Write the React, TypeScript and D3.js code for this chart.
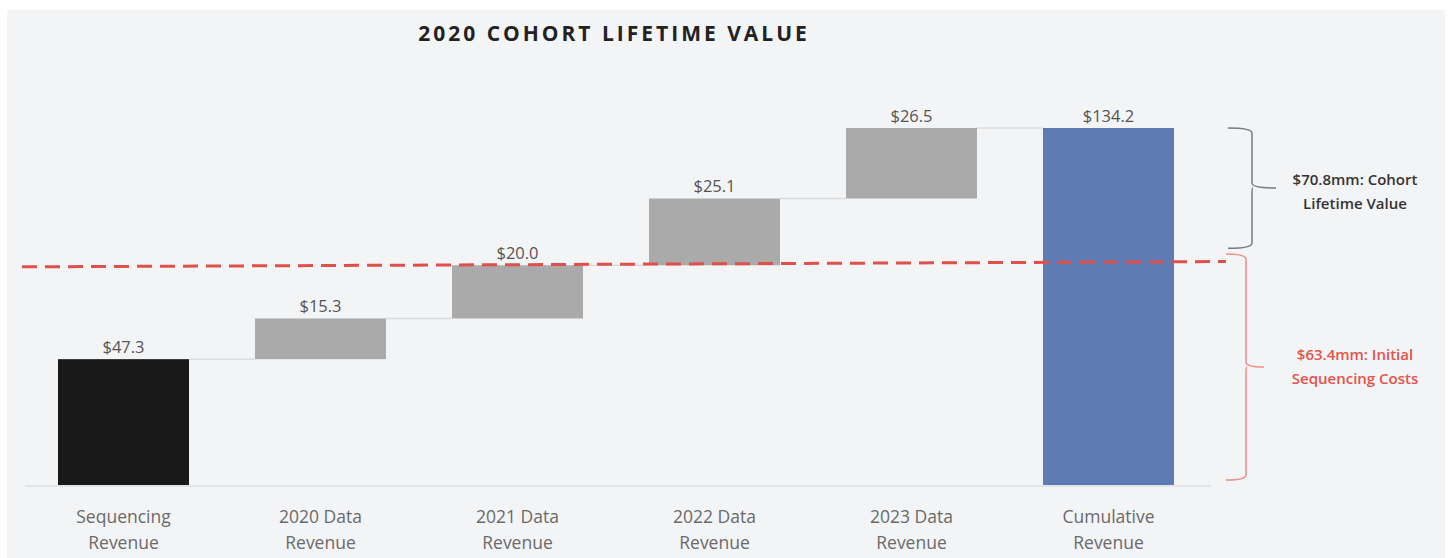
import React, { useEffect, useRef } from 'react';
import * as d3 from 'd3';

const categories = [
  ['Sequencing', 'Revenue'],
  ['2020 Data', 'Revenue'],
  ['2021 Data', 'Revenue'],
  ['2022 Data', 'Revenue'],
  ['2023 Data', 'Revenue'],
  ['Cumulative', 'Revenue'],
];
const increments = [47.3, 15.3, 20.0, 25.1, 26.5];
const total = 134.2;
const valueLabels = ['$47.3', '$15.3', '$20.0', '$25.1', '$26.5', '$134.2'];
const barColors = ['#191919', '#aaaaaa', '#aaaaaa', '#aaaaaa', '#aaaaaa', '#5f7bb4'];

// dashed cost line (left value, right value) as drawn in the source
const costLine = [82.0, 84.0];
// brace spans: [top, bottom] in data units
const ltvBrace = [134.2, 89.0];
const costBrace = [86.8, 1.9];
const ltvText = ['$70.8mm: Cohort', 'Lifetime Value'];
const costText = ['$63.4mm: Initial', 'Sequencing Costs'];

export default function App() {
  const ref = useRef<SVGSVGElement>(null);

  useEffect(() => {
    const W = 1453;
    const H = 558;
    const svg = d3.select(ref.current);
    svg.selectAll('*').remove();

    svg
      .append('rect')
      .attr('x', 7)
      .attr('y', 10)
      .attr('width', W - 15)
      .attr('height', H - 10)
      .attr('fill', '#f3f4f6');

    const x = d3
      .scaleBand()
      .domain(categories.map((c) => c.join(' ')))
      .range([25, 1207])
      .paddingInner(0.335)
      .paddingOuter(0.1675);

    const y = d3.scaleLinear().domain([0, total]).range([485, 128]);

    // waterfall rows
    let run = 0;
    const rows = categories.map((c, i) => {
      const key = c.join(' ');
      if (i < increments.length) {
        const start = run;
        run += increments[i];
        return { key, lo: start, hi: run, i };
      }
      return { key, lo: 0, hi: total, i };
    });

    // baseline
    svg
      .append('line')
      .attr('x1', 25)
      .attr('x2', 1211)
      .attr('y1', y(0) + 1)
      .attr('y2', y(0) + 1)
      .attr('stroke', '#e3e4e6')
      .attr('stroke-width', 2);

    // connectors
    svg
      .append('g')
      .selectAll('line')
      .data(rows.slice(0, -1))
      .join('line')
      .attr('x1', (d) => x(d.key)! + x.bandwidth())
      .attr('x2', (d) => x(rows[d.i + 1].key)!)
      .attr('y1', (d) => y(d.hi))
      .attr('y2', (d) => y(d.hi))
      .attr('stroke', '#dcdcdc')
      .attr('stroke-width', 1.5);

    svg
      .append('g')
      .selectAll('rect')
      .data(rows)
      .join('rect')
      .attr('x', (d) => x(d.key)!)
      .attr('y', (d) => y(d.hi))
      .attr('width', x.bandwidth())
      .attr('height', (d) => y(d.lo) - y(d.hi))
      .attr('fill', (d) => barColors[d.i]);

    svg
      .append('g')
      .selectAll('text')
      .data(rows)
      .join('text')
      .attr('x', (d) => x(d.key)! + x.bandwidth() / 2)
      .attr('y', (d) => y(d.hi) - 6)
      .attr('text-anchor', 'middle')
      .attr('font-family', 'Open Sans')
      .attr('font-size', 16.5)
      .attr('fill', '#555')
      .text((d) => valueLabels[d.i]);

    // category labels
    const cat = svg
      .append('g')
      .selectAll('text')
      .data(rows)
      .join('text')
      .attr('x', (d) => x(d.key)! + x.bandwidth() / 2)
      .attr('y', 523)
      .attr('text-anchor', 'middle')
      .attr('font-family', 'Open Sans')
      .attr('font-size', 17.5)
      .attr('fill', '#6a6a6a');
    cat
      .selectAll('tspan')
      .data((d) => categories[d.i])
      .join('tspan')
      .attr('x', function () {
        return (this.parentNode as SVGTextElement).getAttribute('x');
      })
      .attr('dy', (d, j) => (j === 0 ? 0 : 26))
      .text((d) => d);

    // red dashed cost line
    svg
      .append('line')
      .attr('x1', 22)
      .attr('x2', 1226)
      .attr('y1', y(costLine[0]))
      .attr('y2', y(costLine[1]))
      .attr('stroke', '#e0504a')
      .attr('stroke-width', 3)
      .attr('stroke-dasharray', '15 8');

    // braces
    const brace = (top: number, bot: number, xl: number, xv: number, xt: number, color: string) => {
      const y0 = y(top);
      const y1 = y(bot);
      const ym = (y0 + y1) / 2;
      const p = d3.path();
      p.moveTo(xl, y0);
      p.quadraticCurveTo(xv, y0, xv, y0 + 5);
      p.lineTo(xv, ym - 5);
      p.quadraticCurveTo(xv, ym, xt, ym);
      p.moveTo(xv + 1, ym);
      p.quadraticCurveTo(xv, ym, xv, ym + 5);
      p.lineTo(xv, y1 - 5);
      p.quadraticCurveTo(xv, y1, xl, y1);
      svg
        .append('path')
        .attr('d', p.toString())
        .attr('fill', 'none')
        .attr('stroke', color)
        .attr('stroke-width', 1.5);
      return ym;
    };

    const ym1 = brace(ltvBrace[0], ltvBrace[1], 1228, 1252, 1276, '#7a7a7a');
    const ym2 = brace(costBrace[0], costBrace[1], 1226, 1246, 1264, '#f08a86');

    const note = (lines: string[], cy: number, color: string) => {
      svg
        .append('g')
        .selectAll('text')
        .data(lines)
        .join('text')
        .attr('x', 1355)
        .attr('y', (d, j) => cy + 5 + (j - 0.5) * 24)
        .attr('text-anchor', 'middle')
        .attr('font-family', 'Open Sans')
        .attr('font-weight', 600)
        .attr('font-size', 15)
        .attr('fill', color)
        .text((d) => d);
    };
    note(ltvText, ym1 + 4, '#333');
    note(costText, ym2, '#e5514b');

    svg
      .append('text')
      .attr('x', 614)
      .attr('y', 41)
      .attr('text-anchor', 'middle')
      .attr('font-family', 'Open Sans')
      .attr('font-weight', 700)
      .attr('font-size', 21)
      .attr('letter-spacing', 3)
      .attr('fill', '#222')
      .text('2020 COHORT LIFETIME VALUE');
  }, []);

  return (
    <svg
      ref={ref}
      width={1453}
      height={558}
      style={{ position: 'absolute', left: 0, top: 0, display: 'block' }}
    />
  );
}
